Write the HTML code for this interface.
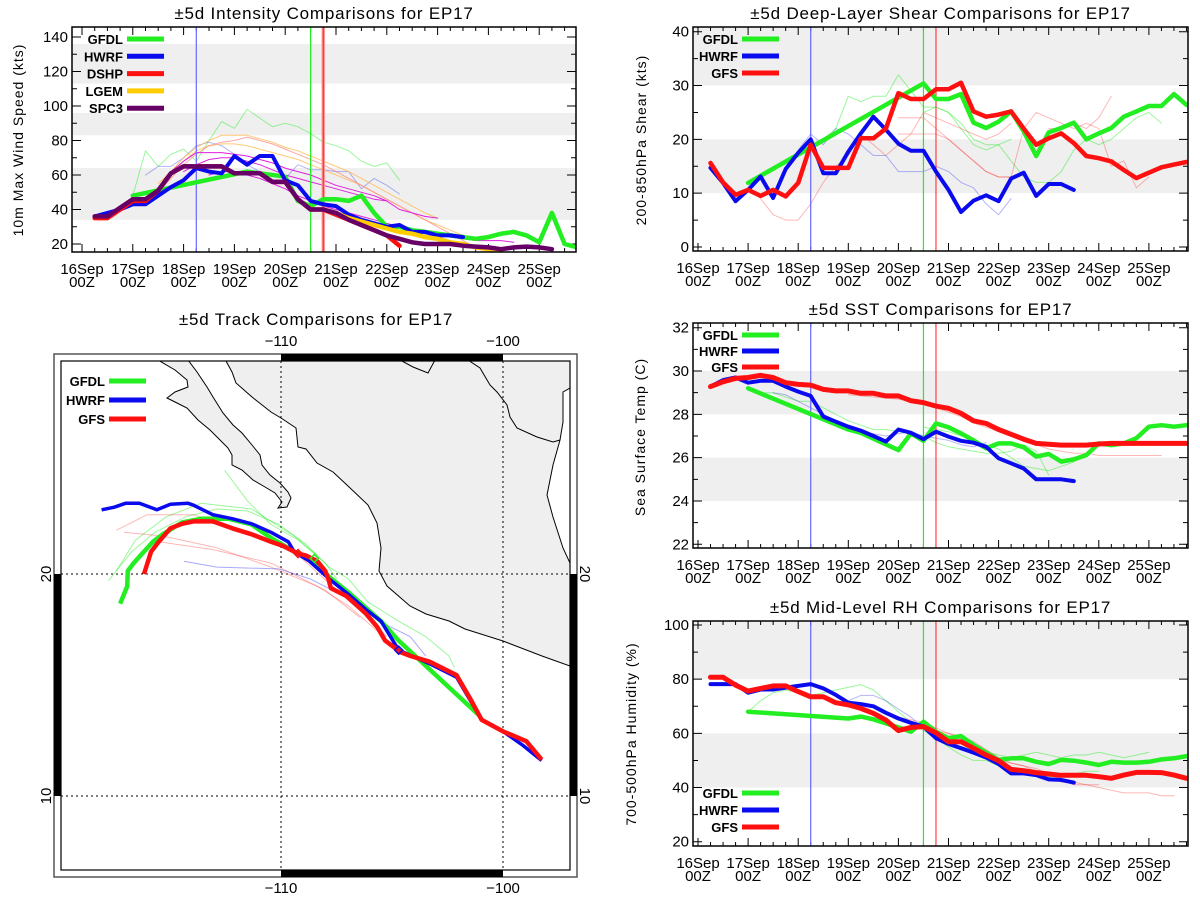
<!DOCTYPE html>
<html><head><meta charset="utf-8"><title>EP17 ±5d Comparisons</title>
<style>
html,body{margin:0;padding:0;background:#fff;}
svg{display:block;font-family:"Liberation Sans",sans-serif;}
.tt{font-size:17px;letter-spacing:0.8px;fill:#000;}
.tk{font-size:15px;fill:#000;}
.lg{font-size:13px;font-weight:bold;fill:#000;}
.yt{font-size:14px;letter-spacing:1px;fill:#000;}
</style></head>
<body>
<svg id="chart" width="1200" height="900" viewBox="0 0 1200 900" xmlns="http://www.w3.org/2000/svg">
<defs>
<clipPath id="clip-int"><rect x="72" y="27" width="504" height="225"/></clipPath>
<clipPath id="clip-shr"><rect x="693" y="27" width="495" height="224"/></clipPath>
<clipPath id="clip-sst"><rect x="693" y="323" width="495" height="225"/></clipPath>
<clipPath id="clip-rh"><rect x="693" y="621" width="495" height="225"/></clipPath>
<clipPath id="clip-map"><rect x="61" y="361" width="509" height="509"/></clipPath>
</defs>
</svg>
<script>
// ---------------- DATA ----------------
const dayLabels = ["16Sep","17Sep","18Sep","19Sep","20Sep","21Sep","22Sep","23Sep","24Sep","25Sep"];
const hourLabel = "00Z";
// analysis/forecast init markers (days since 16Sep 00Z)
const markerBlue = 2.25;
const markerGreen = 4.5;
const markerRed = 4.75;

// Intensity (kts)
const intTicks = [20,40,60,80,100,120,140];
const intBands = [[34,64],[83,96],[113,136]];
const intSpc3Start = 0.25;
const intSpc3 = [36,36,41,46,46,51,61,65,65,65,65,61,61,61,56,56,46,40,40,38,34,31,28,25,23,21,20,20,20,19,18.5,18,17,18,18.5,18,17];
const intDshpStart = 0.25;
const intDshp = [35,35,40,45,45,51,61,65,65,65,65,61,61,61,56,56,46,40,40,37,34,31,28,25,19];
const intHwrfStart = 0.25;
const intHwrf = [36,38,40,43,43,48,53,57,64,62,61,71,66,71,71,57,54,45,43,42,37,34,32,30,31,27,27,25,25,24];
const intLgemStart = 4.75;
const intLgem = [40,38,35,33,31,29,27,26,24,23,21,20,18,17,15];
const intGfdlT = [1.0,3.25,3.5,4.0,4.25,4.5,4.75,5.0,5.25,5.5,5.75,6.0,6.25,6.5,6.75,7.0,7.25,7.5,7.75,8.0,8.25,8.5,8.75,9.0,9.25,9.5,9.75];
const intGfdlV = [48,62,61,59,45,42,46,46,45,48,38,30,30,28,27,26,25,24,23,24,26,27,25,21,38,20,18];
const intThinGreenStart = 1.0;
const intThinGreen = [48,74,65,72,75,68,80,91,87,98,93,88,90,88,84,79,77,74,68,65,67,57];
const intThinBlueStart = 1.25;
const intThinBlue = [60,65,65,70,77,79,77,72,66,62,60,58,66,63,63,62,62,52,58,54,49];
const intThinOrange1Start = 1.5;
const intThinOrange1 = [55,62,70,76,80,83,83,83,81,79,76,74,71,68,65,62,58,54,50,46,42,38,35];
const intThinOrange2Start = 1.5;
const intThinOrange2 = [52,60,68,74,77,78,78,77,75,73,71,69,66,63,60,57,54,50,46,42,38,34,31,28,25];
const intThinPinkStart = 1.5;
const intThinPink = [50,58,66,72,77,79,80,82,80,78,75,72,69,66,62,58,54,50,46,42,38,34,30,26,22,18];
const intThinMag1Start = 1.75;
const intThinMag1 = [62,68,73,73,73,72,71,69,67,64,62,60,57,54,52,50,48,45,40,38,36,35];
const intThinMag2Start = 2.0;
const intThinMag2 = [62,66,69,70,70,68,66,63,60,58,56,54,52,50,48,46,45];
const intThinMag3Start = 2.5;
const intThinMag3 = [60,62,62,60,58,55,52,48,45,42,40,38,36,34,32,30,28,26,25,24,23,22,22,22,21];

// Shear (kts)
const shrTicks = [0,10,20,30,40];
const shrBands = [[10,20],[30,41]];
const shrGfsStart = 0.25;
const shrGfs = [15.6,12,9.7,10.6,9.5,10.6,9.4,11.9,19,14.7,14.7,14.7,20.2,20.2,22,28.6,27.5,27.5,29.3,29.3,30.5,25.2,24.2,24.6,25.2,22,19,20.2,21.1,19.3,16.9,16.5,15.9,14.3,12.8,13.8,14.8,15.3,15.8];
const shrHwrfStart = 0.25;
const shrHwrf = [14.7,11.9,8.5,10.6,13.1,9.1,14.5,17.5,20,13.7,13.7,17.7,21.1,24.2,21.8,19.2,17.9,17.9,14,10.6,6.5,8.6,9.6,8.5,12.7,13.8,9.5,11.7,11.7,10.6];
const shrGfdlT = [1.0,4.5,4.75,5.0,5.25,5.5,5.75,6.0,6.25,6.5,6.75,7.0,7.25,7.5,7.75,8.0,8.25,8.5,8.75,9.0,9.25,9.5,9.75];
const shrGfdlV = [11.9,30.4,27.5,27.5,28.4,23.1,22.1,23.3,25.2,21.5,16.9,21.3,22.1,23.1,20,21.1,22.1,24.2,25.2,26.2,26.2,28.4,26.4];
const shrThinGreen1Start = 2.0;
const shrThinGreen1 = [17,19,20,22,28,27,28,28,32,29,26,26,25,22,19,18,19,20];
const shrThinGreen2Start = 4.5;
const shrThinGreen2 = [25,26,25,23,20,19,19,16,13,12,12,14,18,20,19,20,22,24,25,23];
const shrThinRed1Start = 1.0;
const shrThinRed1 = [11,9,6,5,5,8,12,15,17,21,19,17,19,21,25,24,23,22,21,20,21,23];
const shrThinRed2Start = 4.0;
const shrThinRed2 = [21,21,21,21,20,18,16,14,13,13,22,25,24,23,22,23,22,15,16,11,13];
const shrThinRed3Start = 4.0;
const shrThinRed3 = [24,24,24,22,20,18,16,14,13,13];
const shrThinRed4Start = 7.0;
const shrThinRed4 = [22,22,23,22,24,28];
const shrThinBlueStart = 2.0;
const shrThinBlue = [18,21,19,22,21,19,17,17,14,14,14,15,14,12,11,8,6,9];

// SST (C)
const sstTicks = [22,24,26,28,30,32];
const sstBands = [[24,26],[28,30]];
const sstGfsStart = 0.25;
const sstGfs = [29.28,29.5,29.66,29.7,29.8,29.7,29.46,29.38,29.35,29.15,29.08,29.08,28.97,28.97,28.85,28.85,28.63,28.54,28.38,28.28,28.05,27.7,27.58,27.3,27.08,26.85,26.66,26.62,26.58,26.58,26.58,26.63,26.66,26.66,26.66,26.66,26.66,26.66,26.66];
const sstHwrfStart = 0.25;
const sstHwrf = [29.28,29.58,29.7,29.46,29.55,29.55,29.28,29.05,28.85,27.9,27.66,27.43,27.25,27.0,26.74,27.3,27.15,26.85,27.2,26.97,26.78,26.69,26.5,25.97,25.74,25.5,25,25,25,24.92];
const sstGfdlT = [1.0,3.0,3.25,4.0,4.25,4.5,4.75,5.0,5.25,5.5,5.75,6.0,6.25,6.5,6.75,7.0,7.25,7.5,7.75,8.0,8.25,8.5,8.75,9.0,9.25,9.5,9.75];
const sstGfdlV = [29.2,27.3,27.15,26.35,27.12,26.78,27.58,27.4,27.12,26.8,26.43,26.66,26.66,26.48,26.05,26.17,25.82,25.92,26.12,26.66,26.58,26.66,26.9,27.43,27.5,27.43,27.5];
const sstThinGreen1Start = 1.25;
const sstThinGreen1 = [29.0,29.0,28.8,28.6,28.6,28.3,28.0,27.7,27.5,27.3,27.3,27.2,27.1,27.0,26.7,26.5,26.4,26.3,26.2,26.2,26.3,26.6,26.3,25.2];
const sstThinGreen2Start = 4.5;
const sstThinGreen2 = [27.4,27.3,27.2,27.0,26.8,26.6,26.4,26.0,25.6,25.5,25.4,25.6,25.8,26.2,26.6,26.6,26.7,26.7,26.7];
const sstThinRedStart = 3.0;
const sstThinRed = [28.9,28.85,28.8,28.75,28.7,28.6,28.5,28.3,28.1,27.9,27.6,27.4,27.2,27.0,26.8,26.6,26.4,26.3,26.2,26.2,26.1,26.1,26.1,26.1,26.1,26.1];
const sstThinBlueStart = 1.5;
const sstThinBlue = [29.0,28.9,28.6,28.3,28.0,27.7,27.4,27.2,27.1,27.0,27.1,27.2,27.0,26.9,26.8,26.6,26.5,26.7];

// RH (%)
const rhTicks = [20,40,60,80,100];
const rhBands = [[40,60],[80,102]];
const rhGfsStart = 0.25;
const rhGfs = [80.7,80.7,77.8,75.6,76.6,77.5,77.5,75.4,73.5,73.5,71.3,70.5,69.2,67.4,64.9,61,62.2,62.5,60.2,56.9,56.9,54.5,52,49.9,46.7,46.2,45.5,45,44.5,44.5,44.5,44,43.4,44.6,45.6,45.6,45.5,44.6,43.4];
const rhHwrfStart = 0.25;
const rhHwrf = [78.2,78.2,78.2,75,76.2,76.2,76.9,77.5,78.2,76.6,74.2,71.3,70.8,70,67.6,65.5,63.9,62.5,58.2,56.1,54.5,52.9,51.1,48.7,45.2,45.2,44.6,43,42.8,41.8];
const rhGfdlT = [1.0,3.0,3.25,3.5,3.75,4.0,4.25,4.5,4.75,5.0,5.25,5.5,5.75,6.0,6.25,6.5,6.75,7.0,7.25,7.5,7.75,8.0,8.25,8.5,8.75,9.0,9.25,9.5,9.75];
const rhGfdlV = [68,65.5,66.2,65.2,63.7,62.2,60.6,64.3,60.6,58.2,59,55.7,52.9,50.2,50.8,50.8,49.5,48.7,50.2,49.9,49.2,48.3,49.5,49.2,49.2,49.5,50.4,50.8,51.6];
const rhThinGreen1Start = 1.0;
const rhThinGreen1 = [68,72,75,76,75,74,75,76,77,78,76,72,68,64,61,58,55,52,50,50,48,47,45,45,44,44,45,46,46];
const rhThinGreen2Start = 4.5;
const rhThinGreen2 = [63,60,57,55,54,53,52,51,52,53,52,51,52,52,53,52,51,52,53];
const rhThinRed1Start = 4.0;
const rhThinRed1 = [66,65,64,62,60,58,56,52,50,49,48,46,44,42,42,41,40,39,38,38,38,37,37];
const rhThinRed2Start = 4.5;
const rhThinRed2 = [63,61,60,59,57,54,51,49,48,47,45,43,41,41,41];
const rhThinBlueStart = 3.0;
const rhThinBlue = [72,74,74,72,69,66,62];

// Track (lon, lat)
const trkGfsLon = [-98.26,-98.95,-100.0,-100.96,-101.48,-102.09,-103.31,-104.18,-104.62,-105.31,-105.66,-106.18,-107.06,-107.75,-107.87,-108.01,-108.36,-108.89,-109.23,-109.93,-110.45,-111.32,-112.20,-113.07,-113.94,-114.46,-114.98,-115.51,-115.85,-116.17];
const trkGfsLat = [11.64,12.47,12.91,13.43,14.39,15.44,16.05,16.31,16.48,17.00,17.61,18.22,19.01,19.36,19.79,20.14,20.57,20.84,20.92,21.27,21.45,21.79,22.06,22.37,22.37,22.26,22.06,21.45,21.01,20.00];
const trkHwrfLon = [-98.26,-99.13,-100.0,-100.96,-102.09,-103.31,-104.70,-105.49,-106.18,-106.97,-107.84,-108.71,-109.41,-109.67,-110.45,-111.32,-112.20,-113.07,-113.94,-114.20,-114.98,-115.59,-116.38,-116.99,-117.51,-118.08];
const trkHwrfLat = [11.60,12.30,12.91,13.43,15.35,15.96,16.57,17.87,18.40,19.09,19.79,20.57,21.01,21.45,21.88,22.26,22.49,22.67,23.10,23.19,23.14,22.89,23.19,23.19,23.01,22.89];
const trkGfdlLon = [-101.05,-104.70,-105.49,-106.97,-107.84,-108.54,-109.41,-110.45,-111.32,-112.37,-113.59,-114.46,-115.33,-115.77,-116.64,-116.90,-116.93,-117.25];
const trkGfdlLat = [13.61,17.00,17.87,19.18,19.88,20.66,21.01,21.62,22.23,22.49,22.49,22.32,21.79,21.45,20.49,20.14,19.44,18.66];
const thinG1Lon = [-112.54,-111.50,-110.45,-109.23,-108.01,-107.49];
const thinG1Lat = [24.67,23.28,22.23,21.53,20.49,19.79];
const thinG2Lon = [-117.77,-116.72,-115.68,-114.29,-112.89,-111.50,-110.10,-108.89,-107.84,-106.97,-106.10,-104.70,-103.48,-102.44,-102.18];
const thinG2Lat = [19.70,21.01,21.88,22.58,22.93,22.84,22.23,21.36,20.31,19.79,18.75,17.87,17.18,16.31,15.78];
const thinG3Lon = [-117.42,-116.55,-115.16,-113.59,-111.32,-109.41,-108.36];
const thinG3Lat = [20.14,21.53,22.58,23.19,22.93,21.71,20.84];
const thinR1Lon = [-117.42,-116.03,-113.94,-111.50,-109.41,-107.67,-106.10,-105.23];
const thinR1Lat = [21.97,22.67,22.67,21.88,21.01,19.44,18.05,17.18];
const thinR2Lon = [-117.07,-115.33,-112.89,-110.45,-108.36,-106.97,-105.57];
const thinR2Lat = [21.88,21.71,21.18,20.31,19.44,18.57,17.35];
const thinR3Lon = [-115.51,-113.07,-110.45,-108.01,-106.45];
const thinR3Lat = [21.45,21.10,20.49,19.27,18.05];
const thinBLon = [-114.37,-112.89,-110.10,-108.71,-107.32,-105.23,-104.18,-103.48];
const thinBLat = [20.57,20.31,20.23,19.79,19.09,17.70,17.18,16.31];
const mapLonTicks = [-110,-100];
const mapLatTicks = [20,10];

// ---------------- DRAWING ----------------
const NS = 'http://www.w3.org/2000/svg';
const svg = document.getElementById('chart');
function mk(tag, attrs, parent) {
  const e = document.createElementNS(NS, tag);
  for (const k in attrs) e.setAttribute(k, attrs[k]);
  (parent || svg).appendChild(e);
  return e;
}
function seqT(start, n) { const a = []; for (let i = 0; i < n; i++) a.push(start + 0.25 * i); return a; }

const P = {
  int: {key:'int', L:72, R:576, T:27, B:252, x0:82, dpx:50.8, vA:20, yA:244, vB:140, yB:37, minor:10},
  shr: {key:'shr', L:693, R:1188, T:27, B:251, x0:698, dpx:50.1, vA:0, yA:247, vB:40, yB:31.7, minor:5},
  sst: {key:'sst', L:693, R:1188, T:323, B:548, x0:698, dpx:50.1, vA:22, yA:544.3, vB:32, yB:327.7, minor:1},
  rh:  {key:'rh',  L:693, R:1188, T:621, B:846, x0:698, dpx:50.1, vA:20, yA:841.7, vB:100, yB:625, minor:10}
};
function xs(p, t) { return p.x0 + t * p.dpx; }
function ys(p, v) { return p.yA + (v - p.vA) * (p.yB - p.yA) / (p.vB - p.vA); }

function drawPanel(p, title, ytitle, ytx, yty, ticks, bands) {
  const g = mk('g', {});
  
  
  const t = mk('text', {x:(p.L+p.R)/2, y:p.T-8, 'text-anchor':'middle', class:'tt'}, g);
  t.textContent = title;
  
  
  bands.forEach(b => {
    const y1 = Math.max(p.T, ys(p, b[1])), y2 = Math.min(p.B, ys(p, b[0]));
    const r = mk('rect', {x:p.L, y:y1, width:p.R-p.L, height:y2-y1, fill:'#efefef'}, g);
    
    
  });
  const yt = mk('text', {x:ytx, y:yty, 'text-anchor':'middle', class:'yt', transform:'rotate(-90 '+ytx+' '+yty+')'}, g);
  yt.textContent = ytitle;
  
  
  // y ticks
  let tickPath = '';
  const vmin = ticks[0], vmax = ticks[ticks.length-1];
  for (let v = vmin; v <= vmax + 1e-6; v += p.minor) {
    const y = ys(p, v);
    const major = ticks.some(tv => Math.abs(tv - v) < 1e-6);
    const len = major ? 9 : 5;
    tickPath += 'M'+p.L+' '+y+'h'+len+'M'+p.R+' '+y+'h'+(-len);
  }
  ticks.forEach(v => {
    const lb = mk('text', {x:p.L-4, y:ys(p,v)+5, 'text-anchor':'end', class:'tk'}, g);
    lb.textContent = v;
    
    
  });
  // x ticks
  for (let k = -4; k <= 60; k++) {
    const tt = k * 0.25;
    const x = xs(p, tt);
    if (x <= p.L + 0.5 || x >= p.R - 0.5) continue;
    const len = (k % 4 === 0) ? 8 : 4;
    tickPath += 'M'+x+' '+p.B+'v'+(-len)+'M'+x+' '+p.T+'v'+len;
  }
  const tp = mk('path', {d:tickPath, stroke:'#000', 'stroke-width':1, fill:'none'}, g);
  
  
  dayLabels.forEach((d, i) => {
    const x = xs(p, i);
    const a = mk('text', {x:x, y:p.B+22, 'text-anchor':'middle', class:'tk'}, g);
    a.textContent = d;
    
    
    const b = mk('text', {x:x, y:p.B+35, 'text-anchor':'middle', class:'tk'}, g);
    b.textContent = hourLabel;
    
    
  });
  const plot = mk('g', {'clip-path':'url(#clip-'+p.key+')'}, g);
  
  
  p.plot = p.plot || plot;
  p.g = g;
  return plot;
}
function series(p, parent, ts, vs, color, w, name, op) {
  let d = '';
  ts.forEach((t, i) => { d += (i ? 'L' : 'M') + xs(p, t).toFixed(1) + ' ' + ys(p, vs[i]).toFixed(1); });
  const e = mk('path', {d:d, stroke:color, 'stroke-width':w, fill:'none', 'stroke-linejoin':'round', 'stroke-linecap':'round', opacity:op || 1}, parent);
  
  
  return e;
}
function vline(p, parent, t, color, name, w) {
  const x = xs(p, t);
  const e = mk('line', {x1:x, x2:x, y1:p.T, y2:p.B, stroke:color, 'stroke-width':w || 1.2}, parent);
  
  
}
function frame(p) {
  const r = mk('rect', {x:p.L, y:p.T, width:p.R-p.L, height:p.B-p.T, fill:'none', stroke:'#000', 'stroke-width':1.5}, p.g);
  
  
}
function legend(prefix, x, y0, dy, names, colors, parent) {
  names.forEach((n, i) => {
    const y = y0 + i * dy;
    const t = mk('text', {x:x+38, y:y+5, 'text-anchor':'end', class:'lg'}, parent);
    t.textContent = n;
    
    
    const l = mk('line', {x1:x+42, x2:x+79, y1:y, y2:y, stroke:colors[i], 'stroke-width':5}, parent);
    
    
  });
}
const GRN = '#22ee22', BLU = '#0a0aee', RED = '#ff1010', ORG = '#ffcc00', PUR = '#660066', MAG = '#e020e0';

// Intensity panel
(function(){
  const p = P.int;
  const g = drawPanel(p, '±5d Intensity Comparisons for EP17', '10m Max Wind Speed (kts)', 23, 140, intTicks, intBands);
  series(p, g, seqT(intThinGreenStart, intThinGreen.length), intThinGreen, GRN, 1, 'int-thin-gfdl', 0.45);
  series(p, g, seqT(intThinBlueStart, intThinBlue.length), intThinBlue, BLU, 1, 'int-thin-hwrf', 0.3);
  series(p, g, seqT(intThinOrange1Start, intThinOrange1.length), intThinOrange1, '#ffbb55', 1, 'int-thin-lgem-1', 0.8);
  series(p, g, seqT(intThinOrange2Start, intThinOrange2.length), intThinOrange2, '#ffbb55', 1, 'int-thin-lgem-2', 0.8);
  series(p, g, seqT(intThinPinkStart, intThinPink.length), intThinPink, '#ff8080', 1, 'int-thin-dshp', 0.7);
  series(p, g, seqT(intThinMag1Start, intThinMag1.length), intThinMag1, MAG, 1, 'int-thin-spc3-1', 1);
  series(p, g, seqT(intThinMag2Start, intThinMag2.length), intThinMag2, MAG, 1, 'int-thin-spc3-2', 1);
  series(p, g, seqT(intThinMag3Start, intThinMag3.length), intThinMag3, MAG, 1, 'int-thin-spc3-3', 1);
  vline(p, g, markerBlue, '#6666ff', 'int-hwrf-init-line');
  vline(p, g, markerGreen, GRN, 'int-gfdl-init-line');
  vline(p, g, markerRed, '#ff9999', 'int-dshp-init-band', 3.5);
  vline(p, g, markerRed, '#ff3030', 'int-dshp-init-line');
  series(p, g, intGfdlT, intGfdlV, GRN, 4.5, 'int-gfdl-line');
  series(p, g, seqT(intHwrfStart, intHwrf.length), intHwrf, BLU, 4, 'int-hwrf-line');
  series(p, g, seqT(intLgemStart, intLgem.length), intLgem, ORG, 4.5, 'int-lgem-line');
  series(p, g, seqT(intDshpStart, intDshp.length), intDshp, RED, 4.5, 'int-dshp-line');
  series(p, g, seqT(intSpc3Start, intSpc3.length), intSpc3, PUR, 4.5, 'int-spc3-line');
  legend('int', 85, 39, 17.3, ['GFDL','HWRF','DSHP','LGEM','SPC3'], [GRN,BLU,RED,ORG,PUR], p.g);
  frame(p);
})();

// Shear panel
(function(){
  const p = P.shr;
  const g = drawPanel(p, '±5d Deep-Layer Shear Comparisons for EP17', '200-850hPa Shear (kts)', 646, 140, shrTicks, shrBands);
  series(p, g, seqT(shrThinGreen1Start, shrThinGreen1.length), shrThinGreen1, GRN, 1, 'shr-thin-gfdl-1', 0.45);
  series(p, g, seqT(shrThinGreen2Start, shrThinGreen2.length), shrThinGreen2, GRN, 1, 'shr-thin-gfdl-2', 0.45);
  series(p, g, seqT(shrThinRed1Start, shrThinRed1.length), shrThinRed1, RED, 1, 'shr-thin-gfs-1', 0.3);
  series(p, g, seqT(shrThinRed2Start, shrThinRed2.length), shrThinRed2, RED, 1, 'shr-thin-gfs-2', 0.3);
  series(p, g, seqT(shrThinRed3Start, shrThinRed3.length), shrThinRed3, RED, 1, 'shr-thin-gfs-3', 0.3);
  series(p, g, seqT(shrThinRed4Start, shrThinRed4.length), shrThinRed4, RED, 1, 'shr-thin-gfs-4', 0.3);
  series(p, g, seqT(shrThinBlueStart, shrThinBlue.length), shrThinBlue, BLU, 1, 'shr-thin-hwrf', 0.3);
  vline(p, g, markerBlue, '#6666ff', 'shr-hwrf-init-line');
  vline(p, g, markerGreen, GRN, 'shr-gfdl-init-line');
  vline(p, g, markerRed, '#ff4040', 'shr-gfs-init-line');
  series(p, g, shrGfdlT, shrGfdlV, GRN, 4.5, 'shr-gfdl-line');
  series(p, g, seqT(shrHwrfStart, shrHwrf.length), shrHwrf, BLU, 4, 'shr-hwrf-line');
  series(p, g, seqT(shrGfsStart, shrGfs.length), shrGfs, RED, 4.5, 'shr-gfs-line');
  legend('shr', 700, 39, 17, ['GFDL','HWRF','GFS'], [GRN,BLU,RED], p.g);
  frame(p);
})();

// SST panel
(function(){
  const p = P.sst;
  const g = drawPanel(p, '±5d SST Comparisons for EP17', 'Sea Surface Temp (C)', 645, 437, sstTicks, sstBands);
  series(p, g, seqT(sstThinGreen1Start, sstThinGreen1.length), sstThinGreen1, GRN, 1, 'sst-thin-gfdl-1', 0.45);
  series(p, g, seqT(sstThinGreen2Start, sstThinGreen2.length), sstThinGreen2, GRN, 1, 'sst-thin-gfdl-2', 0.45);
  series(p, g, seqT(sstThinRedStart, sstThinRed.length), sstThinRed, RED, 1, 'sst-thin-gfs', 0.3);
  series(p, g, seqT(sstThinBlueStart, sstThinBlue.length), sstThinBlue, BLU, 1, 'sst-thin-hwrf', 0.3);
  vline(p, g, markerBlue, '#6666ff', 'sst-hwrf-init-line');
  vline(p, g, markerGreen, GRN, 'sst-gfdl-init-line');
  vline(p, g, markerRed, '#ff4040', 'sst-gfs-init-line');
  series(p, g, sstGfdlT, sstGfdlV, GRN, 4.5, 'sst-gfdl-line');
  series(p, g, seqT(sstHwrfStart, sstHwrf.length), sstHwrf, BLU, 4, 'sst-hwrf-line');
  series(p, g, seqT(sstGfsStart, sstGfs.length), sstGfs, RED, 5, 'sst-gfs-line');
  legend('sst', 700, 335, 16, ['GFDL','HWRF','GFS'], [GRN,BLU,RED], p.g);
  frame(p);
})();

// RH panel
(function(){
  const p = P.rh;
  const g = drawPanel(p, '±5d Mid-Level RH Comparisons for EP17', '700-500hPa Humidity (%)', 636, 734, rhTicks, rhBands);
  series(p, g, seqT(rhThinGreen1Start, rhThinGreen1.length), rhThinGreen1, GRN, 1, 'rh-thin-gfdl-1', 0.45);
  series(p, g, seqT(rhThinGreen2Start, rhThinGreen2.length), rhThinGreen2, GRN, 1, 'rh-thin-gfdl-2', 0.45);
  series(p, g, seqT(rhThinRed1Start, rhThinRed1.length), rhThinRed1, RED, 1, 'rh-thin-gfs-1', 0.3);
  series(p, g, seqT(rhThinRed2Start, rhThinRed2.length), rhThinRed2, RED, 1, 'rh-thin-gfs-2', 0.3);
  series(p, g, seqT(rhThinBlueStart, rhThinBlue.length), rhThinBlue, BLU, 1, 'rh-thin-hwrf', 0.3);
  vline(p, g, markerBlue, '#6666ff', 'rh-hwrf-init-line');
  vline(p, g, markerGreen, GRN, 'rh-gfdl-init-line');
  vline(p, g, markerRed, '#ff4040', 'rh-gfs-init-line');
  series(p, g, rhGfdlT, rhGfdlV, GRN, 4.5, 'rh-gfdl-line');
  series(p, g, seqT(rhHwrfStart, rhHwrf.length), rhHwrf, BLU, 4, 'rh-hwrf-line');
  series(p, g, seqT(rhGfsStart, rhGfs.length), rhGfs, RED, 5, 'rh-gfs-line');
  legend('rh', 700, 793, 17, ['GFDL','HWRF','GFS'], [GRN,BLU,RED], p.g);
  frame(p);
})();

// Track map
(function(){
  const M = {L:61, R:570, T:361, B:870};
  function mx(lon) { return 281 + (lon + 110) * 22.2; }
  function my(lat) { return 574 - (lat - 20) * 22.2; }
  const g = mk('g', {});
  
  
  const t = mk('text', {x:316, y:325, 'text-anchor':'middle', class:'tt'}, g);
  t.textContent = '±5d Track Comparisons for EP17';
  
  
  const outer = mk('rect', {x:54, y:354, width:523, height:523, fill:'none', stroke:'#555', 'stroke-width':1.5}, g);
  
  
  // black graticule bars
  const bars = [[mx(-110),354,mx(-100)-mx(-110),7],[mx(-110),870,mx(-100)-mx(-110),7],[54,my(20),7,my(10)-my(20)],[570,my(20),7,my(10)-my(20)]];
  bars.forEach(b => {
    const r = mk('rect', {x:b[0], y:b[1], width:b[2], height:b[3], fill:'#000'}, g);
    
    
  });
  const clip = mk('g', {'clip-path':'url(#clip-map)'}, g);
  
  
  const main = [[226,361],[232,372],[236,383],[252,397],[271,412],[281,418],[296,428],[298,447],[306,449],[317,463],[333,472],[348,486],[368,505],[377,523],[381,548],[379,571],[387,586],[410,606],[426,614],[449,621],[465,629],[503,641],[542,656],[570,666]];
  const gulf = [[570,563],[563,548],[553,517],[547,495],[553,465],[560,440],[563,422],[563,392],[570,388]];
  const baja = [[158,360],[175,370],[187,380],[188,387],[175,392],[167,398],[175,402],[187,408],[198,420],[210,430],[220,440],[228,448],[232,455],[232,465],[242,470],[253,480],[265,487],[275,493],[282,502],[278,508],[287,507],[291,498],[288,492],[280,483],[270,475],[262,465],[260,455],[252,445],[242,433],[233,425],[223,413],[213,397],[207,387],[197,372],[188,360]];
  const pts = a => a.map(q => q[0]+','+q[1]).join(' ');
  const land = mk('polygon', {points: pts(main.concat(gulf).concat([[575,356],[222,356]])), fill:'#efefef', stroke:'none'}, clip);
  
  
  const bj = mk('polygon', {points: pts(baja.concat([[188,356],[158,356]])), fill:'#efefef', stroke:'none'}, clip);
  
  
  const c1 = mk('polyline', {points: pts(main), fill:'none', stroke:'#000', 'stroke-width':1}, clip);
  
  
  const c2 = mk('polyline', {points: pts(gulf), fill:'none', stroke:'#000', 'stroke-width':1}, clip);
  
  
  const c3 = mk('polyline', {points: pts(baja), fill:'none', stroke:'#000', 'stroke-width':1}, clip);
  
  
  const border = [[468,360],[480,368],[490,385],[497,392],[507,405],[510,417],[517,428],[537,437],[553,442],[560,440]];
  const c4 = mk('polyline', {points: pts(border), fill:'none', stroke:'#000', 'stroke-width':1}, clip);
  
  
  const c5 = mk('polyline', {points: '400,360 413,367 428,373 435,360', fill:'none', stroke:'#000', 'stroke-width':1}, clip);
  
  
  // grid
  mapLonTicks.forEach(lon => {
    const l = mk('line', {x1:mx(lon), x2:mx(lon), y1:M.T, y2:M.B, stroke:'#000', 'stroke-dasharray':'2,3', 'stroke-width':1}, clip);
    
    
    [346, 893].forEach(yy => {
      const tx = mk('text', {x:mx(lon), y:yy, 'text-anchor':'middle', class:'tk'}, g);
      tx.textContent = '\u2212' + Math.abs(lon);
      
      
    });
  });
  mapLatTicks.forEach(lat => {
    const l = mk('line', {x1:M.L, x2:M.R, y1:my(lat), y2:my(lat), stroke:'#000', 'stroke-dasharray':'2,3', 'stroke-width':1}, clip);
    
    
    const a = mk('text', {x:51, y:my(lat), 'text-anchor':'middle', class:'tk', transform:'rotate(-90 51 '+my(lat)+')'}, g);
    a.textContent = lat;
    
    
    const b = mk('text', {x:580, y:my(lat), 'text-anchor':'middle', class:'tk', transform:'rotate(90 580 '+my(lat)+')'}, g);
    b.textContent = lat;
    
    
  });
  function track(lons, lats, color, w, name, op) {
    const d = lons.map((lo, i) => (i ? 'L' : 'M') + mx(lo).toFixed(1) + ' ' + my(lats[i]).toFixed(1)).join('');
    const e = mk('path', {d:d, stroke:color, 'stroke-width':w, fill:'none', 'stroke-linejoin':'round', opacity:op || 1}, clip);
    
    
  }
  track(thinG1Lon, thinG1Lat, GRN, 1, 'thin-gfdl-track-1', 0.45);
  track(thinG2Lon, thinG2Lat, GRN, 1, 'thin-gfdl-track-2', 0.45);
  track(thinG3Lon, thinG3Lat, GRN, 1, 'thin-gfdl-track-3', 0.45);
  track(thinR1Lon, thinR1Lat, RED, 1, 'thin-gfs-track-1', 0.3);
  track(thinR2Lon, thinR2Lat, RED, 1, 'thin-gfs-track-2', 0.3);
  track(thinR3Lon, thinR3Lat, RED, 1, 'thin-gfs-track-3', 0.3);
  track(thinBLon, thinBLat, BLU, 1, 'thin-hwrf-track', 0.35);
  track(trkGfdlLon, trkGfdlLat, GRN, 4.5, 'gfdl-track');
  track(trkHwrfLon, trkHwrfLat, BLU, 3.5, 'hwrf-track');
  track(trkGfsLon, trkGfsLat, RED, 4.5, 'gfs-track');
  // diamond markers at forecast init
  [[-104.70,16.57,BLU],[-108.5,20.7,GRN],[-109.23,20.92,RED]].forEach(m => {
    const x = mx(m[0]), y = my(m[1]);
    const e = mk('polygon', {points:(x)+','+(y-4)+' '+(x+4)+','+y+' '+x+','+(y+4)+' '+(x-4)+','+y, fill:'none', stroke:m[2], 'stroke-width':1.5}, clip);
    
    
  });
  const inner = mk('rect', {x:M.L, y:M.T, width:M.R-M.L, height:M.B-M.T, fill:'none', stroke:'#000', 'stroke-width':1.2}, g);
  
  
  legend('track', 67, 381, 19, ['GFDL','HWRF','GFS'], [GRN,BLU,RED], g);
})();
</script>
</body></html>
